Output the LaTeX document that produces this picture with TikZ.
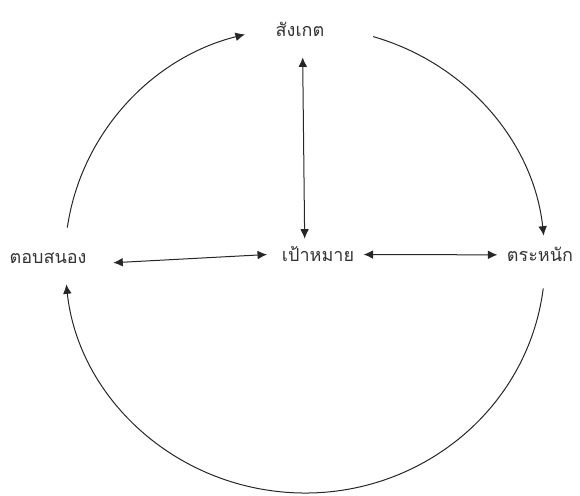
\documentclass[tikz,border=0pt]{standalone}
\usepackage{fontspec}
\newfontfamily\thaifont[Script=Thai]{Loma}
\usetikzlibrary{arrows.meta}

\definecolor{lblgray}{HTML}{333333}
\tikzset{
  lbl/.style={font=\thaifont\fontsize{13.5}{15}\selectfont,text=lblgray,inner sep=0pt,anchor=base},
  cyc/.style={-{Latex[length=2.5mm,width=2.3mm]},line width=0.75pt,black!85},
  dbl/.style={{Latex[length=2.5mm,width=2.3mm]}-{Latex[length=2.5mm,width=2.3mm]},line width=0.75pt,black!85}
}

\begin{document}
\begin{tikzpicture}[x=0.75pt,y=0.75pt]
\useasboundingbox (0,0) rectangle (580,495);
% labels
\node[lbl] (observe) at (300,458) {สังเกต};
\node[lbl] (respond) at (48,231) {ตอบสนอง};
\node[lbl] (goal) at (318,233) {เป้าหมาย};
\node[lbl] (aware) at (540,233) {ตระหนัก};
% centre of the ring
\coordinate (ring) at (305,235);
% ring arrows
\draw[cyc] (ring) ++(172:180pt and 174.75pt) arc[start angle=172,end angle=104.5,x radius=180pt,y radius=174.75pt];
\draw[cyc] (ring) ++(73.5:180pt and 174.75pt) arc[start angle=73.5,end angle=6,x radius=180pt,y radius=174.75pt];
\draw[cyc] (ring) ++(-7:180pt and 174.75pt) arc[start angle=-7,end angle=-174,x radius=180pt,y radius=174.75pt];
% two-way arrows
\draw[dbl] ([xshift=2pt,yshift=-15pt]observe.south) -- ([xshift=-10pt,yshift=6pt]goal.north);
\draw[dbl] ([xshift=20pt,yshift=-3pt]respond.east) -- ([xshift=-11pt]goal.west);
\draw[dbl] ([xshift=7pt]goal.east) -- ([xshift=-7pt]aware.west);
\end{tikzpicture}
\end{document}
